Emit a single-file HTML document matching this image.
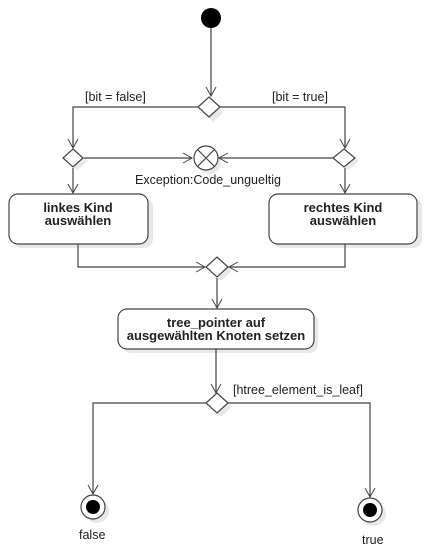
<!DOCTYPE html>
<html><head><style>body{margin:0;background:#fff}svg{display:block}</style></head><body>
<svg width="428" height="560" xmlns="http://www.w3.org/2000/svg" font-family="Liberation Sans, sans-serif" font-size="12.5">
<defs><marker id="a" markerWidth="12" markerHeight="12" refX="10" refY="6" orient="auto" markerUnits="userSpaceOnUse"><path d="M1,1 L10,6 L1,11" fill="none" stroke="#444" stroke-width="1"/></marker></defs>
<g fill="#e8e8e8">
<rect x="13" y="198" width="140" height="50" rx="9"/><rect x="273" y="198" width="149" height="50" rx="9"/><rect x="122" y="313" width="196" height="40" rx="9"/>
<path d="M213,102 l11,10 -11,10 -11,-10z"/><path d="M77,152 l11,9 -11,9 -11,-9z"/><path d="M348,152 l11,9 -11,9 -11,-9z"/><path d="M221,261 l11,10 -11,10 -11,-10z"/><path d="M221,397 l11,10 -11,10 -11,-10z"/>
<circle cx="97" cy="511" r="12"/><circle cx="374" cy="514" r="12"/><circle cx="209" cy="162" r="12"/>
</g>
<g stroke="#444" fill="none" stroke-width="1.2">
<line x1="211" y1="28" x2="211" y2="96" marker-end="url(#a)"/>
<polyline points="198,107 73,107 73,148" marker-end="url(#a)"/>
<polyline points="220,107 345,107 345,148" marker-end="url(#a)"/>
<line x1="84" y1="158" x2="192" y2="158" marker-end="url(#a)"/>
<line x1="333" y1="158" x2="219" y2="158" marker-end="url(#a)"/>
<line x1="73" y1="168" x2="73" y2="193" marker-end="url(#a)"/>
<line x1="345" y1="168" x2="345" y2="193" marker-end="url(#a)"/>
<polyline points="78,244 78,267 205,267" marker-end="url(#a)"/>
<polyline points="345,244 345,267 229,267" marker-end="url(#a)"/>
<line x1="217" y1="278" x2="217" y2="308" marker-end="url(#a)"/>
<line x1="216" y1="349" x2="216" y2="393" marker-end="url(#a)"/>
<polyline points="206,403 93,403 93,494" marker-end="url(#a)"/>
<polyline points="228,403 370,403 370,497" marker-end="url(#a)"/>
</g>
<circle cx="211" cy="18" r="10" fill="#000"/>
<g fill="#fff" stroke="#444" stroke-width="1.2">
<rect x="9" y="194" width="139" height="50" rx="9"/><rect x="269" y="194" width="148" height="50" rx="9"/><rect x="118" y="309" width="196" height="40" rx="9"/>
<path d="M209,97 l11,10 -11,10 -11,-10z"/><path d="M73,149 l10,9 -10,9 -10,-9z"/><path d="M344,149 l11,9 -11,9 -11,-9z"/><path d="M217,257 l11,10 -11,10 -11,-10z"/><path d="M217,393 l11,10 -11,10 -11,-10z"/>
<circle cx="206" cy="158" r="12"/><circle cx="93" cy="507" r="12"/><circle cx="370" cy="510" r="12"/>
</g>
<path d="M198,150 l16,16 M214,150 l-16,16" stroke="#444" stroke-width="1.2"/>
<circle cx="93" cy="507" r="7" fill="#000"/><circle cx="370" cy="510" r="7" fill="#000"/>
<g fill="#222">
<text x="85" y="101">[bit = false]</text><text x="272" y="101">[bit = true]</text>
<text x="135" y="184">Exception:Code_ungueltig</text>
<text x="233" y="394">[htree_element_is_leaf]</text>
<text x="79" y="539">false</text><text x="362" y="544">true</text>
<g font-weight="bold" text-anchor="middle" font-size="13">
<text x="78" y="212">linkes Kind</text><text x="78" y="225">auswählen</text>
<text x="343" y="212">rechtes Kind</text><text x="343" y="225">auswählen</text>
<text x="216" y="327">tree_pointer auf</text><text x="216" y="340">ausgewählten Knoten setzen</text>
</g></g>
</svg>
</body></html>
